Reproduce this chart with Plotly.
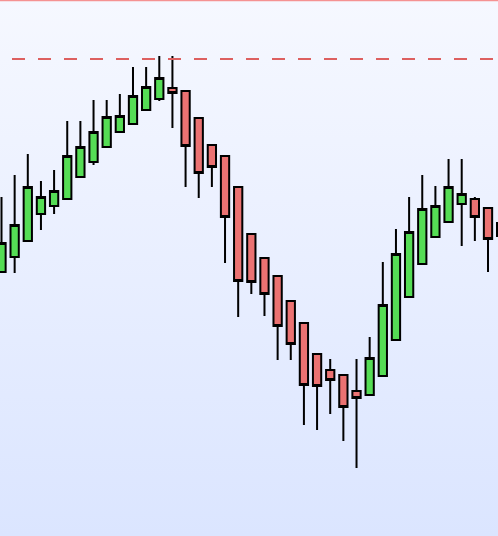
import base64
import plotly.graph_objects as go

# ---- data (price units) ----
idx = list(range(39))
open_ = [106.40, 107.15, 107.95, 109.30, 109.70, 110.05, 111.15, 111.90, 112.65, 113.40,
         113.80, 114.50, 115.05, 115.60, 115.45, 114.10, 112.75, 112.20, 110.65, 108.30,
         107.10, 106.20, 104.95, 103.85, 102.30, 101.50, 101.25, 100.45, 100.25, 101.20,
         103.00, 105.15, 106.80, 108.15, 108.90, 109.80, 110.05, 109.60, 108.85]
high = [110.15, 111.25, 112.30, 110.95, 111.50, 113.95, 113.95, 115.00, 115.00, 115.30,
        116.65, 116.65, 117.20, 117.20, 115.45, 114.10, 112.75, 112.20, 110.65, 108.30,
        107.10, 106.20, 104.95, 103.85, 102.30, 102.05, 101.25, 102.05, 103.15, 106.90,
        108.55, 110.15, 111.25, 110.70, 112.05, 112.05, 110.15, 109.60, 109.00]
low = [106.40, 106.35, 107.95, 108.50, 109.30, 110.05, 111.15, 111.75, 112.65, 113.40,
       113.80, 114.50, 114.95, 113.60, 110.65, 110.10, 110.65, 106.85, 104.15, 105.30,
       104.20, 102.00, 102.00, 98.75, 98.50, 99.30, 97.95, 96.60, 100.25, 101.20,
       103.00, 105.15, 106.80, 108.15, 108.90, 107.70, 107.95, 106.40, 107.50]
close = [107.85, 108.75, 110.65, 110.15, 110.45, 112.20, 112.65, 113.40, 114.15, 114.20,
         115.20, 115.65, 116.10, 115.35, 112.70, 111.35, 111.65, 109.15, 105.95, 105.90,
         105.30, 103.70, 102.80, 100.75, 100.70, 101.00, 99.65, 100.10, 102.10, 104.75,
         107.30, 108.40, 109.55, 109.70, 110.65, 110.30, 109.15, 108.05, 108.20]

resistance_level = 117.05
top_level = 119.97

y_range = [93.2, 120.0]
x_range = [-0.114, 37.76]

fig = go.Figure()

fig.add_trace(go.Candlestick(
    x=idx, open=open_, high=high, low=low, close=close,
    increasing=dict(fillcolor="#55DD55", line=dict(color="#000000", width=2)),
    decreasing=dict(fillcolor="#EB7272", line=dict(color="#000000", width=2)),
    whiskerwidth=0,
    hoverinfo="skip",
    showlegend=False,
))

# background gradient via svg image
svg = ('<svg xmlns="http://www.w3.org/2000/svg" width="10" height="100" preserveAspectRatio="none">'
       '<defs><linearGradient id="g" x1="0" y1="0" x2="0" y2="1">'
       '<stop offset="0" stop-color="#F6F8FF"/><stop offset="1" stop-color="#DBE5FF"/>'
       '</linearGradient></defs><rect width="10" height="100" fill="url(#g)"/></svg>')
src = "data:image/svg+xml;base64," + base64.b64encode(svg.encode()).decode()

fig.update_layout(
    width=498, height=536,
    margin=dict(l=0, r=0, t=0, b=0),
    paper_bgcolor="#E9EEFF",
    plot_bgcolor="rgba(0,0,0,0)",
    boxgap=0.1,
    boxgroupgap=0.3,
    images=[dict(source=src, xref="paper", yref="paper", x=0, y=1, sizex=1, sizey=1,
                 xanchor="left", yanchor="top", sizing="stretch", layer="below")],
    xaxis=dict(visible=False, range=x_range, rangeslider=dict(visible=False), fixedrange=True),
    yaxis=dict(visible=False, range=y_range, fixedrange=True),
    shapes=[
        dict(type="line", xref="paper", yref="y", x0=-14 / 498, x1=1.05, y0=resistance_level,
             y1=resistance_level, line=dict(color="#DD6060", width=2, dash="13px,13px"), layer="above"),
        dict(type="line", xref="paper", yref="y", x0=0, x1=1, y0=top_level, y1=top_level,
             line=dict(color="#F59292", width=1.5), layer="above"),
    ],
)

fig.write_html(
    "out.html",
    config={"displayModeBar": False},
    post_script="document.body.style.margin='0';document.body.style.overflow='hidden';"
                "document.documentElement.style.overflow='hidden';",
)
